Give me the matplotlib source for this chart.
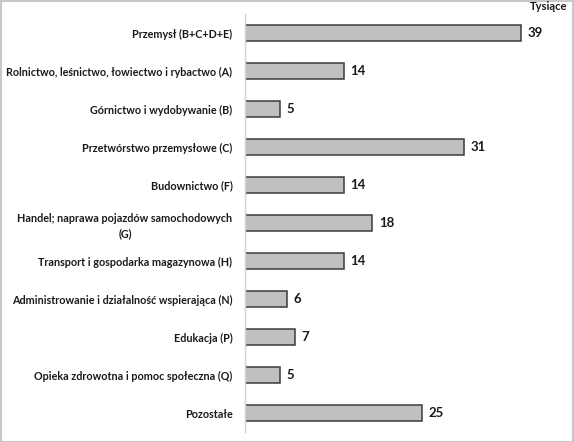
import matplotlib.pyplot as plt
from matplotlib.patches import Rectangle

plt.rcParams['font.family'] = ['Lato', 'DejaVu Sans']

labels = [
    "Przemysł (B+C+D+E)",
    "Rolnictwo, leśnictwo, łowiectwo i rybactwo (A)",
    "Górnictwo i wydobywanie (B)",
    "Przetwórstwo przemysłowe (C)",
    "Budownictwo (F)",
    "Handel; naprawa pojazdów samochodowych\n(G)",
    "Transport i gospodarka magazynowa (H)",
    "Administrowanie i działalność wspierająca (N)",
    "Edukacja (P)",
    "Opieka zdrowotna i pomoc społeczna (Q)",
    "Pozostałe",
]
values = [39, 14, 5, 31, 14, 18, 14, 6, 7, 5, 25]
unit = "Tysiące"

fig = plt.figure(figsize=(5.74, 4.42), dpi=100)
ax = fig.add_axes([245 / 574, 10 / 442, 325 / 574, 418 / 442])

y = list(range(len(values)))
ax.barh(y, values, height=0.4, color='#c0c0c0', edgecolor='#3a3a3a', linewidth=1.1)
ax.set_ylim(len(values) - 0.5, -0.5)
ax.set_xlim(0, 325 / 7.08)

for yi, v in zip(y, values):
    ax.text(v + 0.9, yi, str(v), va='center', ha='left', fontsize=9.5,
            fontweight='bold', color='#1a1a1a')

ax.set_yticks(y)
ax.set_yticklabels(labels, fontsize=7.75, fontweight='bold', color='#1a1a1a',
                   multialignment='center', linespacing=1.5)
ax.tick_params(axis='y', length=0, pad=9)
ax.set_xticks([])
for s in ['top', 'right', 'bottom']:
    ax.spines[s].set_visible(False)
ax.spines['left'].set_color('#d0d0d0')
ax.spines['left'].set_linewidth(1.0)

fig.text(567 / 574, 1 - 7 / 442, unit, ha='right', va='center', fontsize=8,
         fontweight='bold', color='#1a1a1a')

fig.patches.append(Rectangle((0.001, 0.001), 0.997, 0.997, transform=fig.transFigure,
                             fill=False, edgecolor='#c8c8c8', linewidth=1.5))

fig.savefig('out.png', dpi=100)
